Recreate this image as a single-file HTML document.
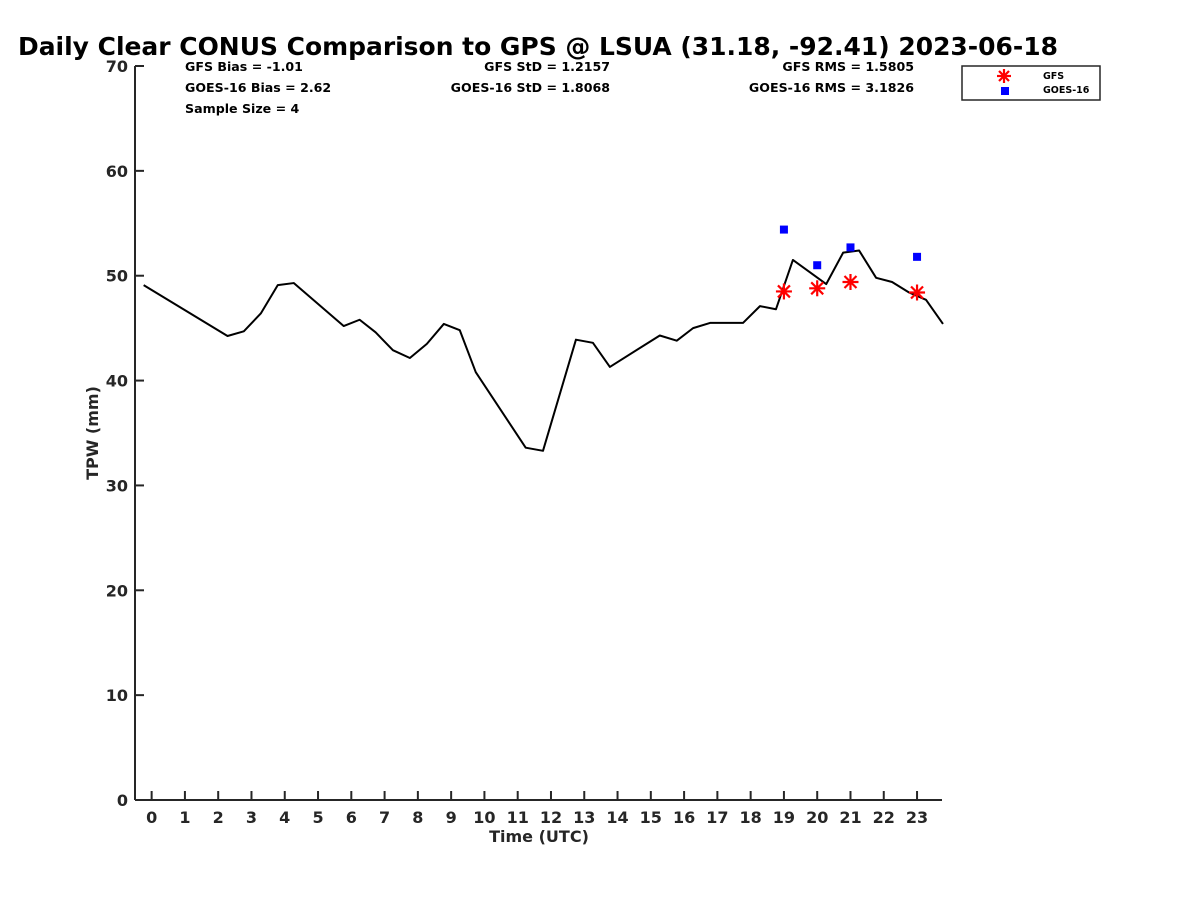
<!DOCTYPE html>
<html><head><meta charset="utf-8"><style>
body{margin:0;background:#fff;}
svg text{font-family:"DejaVu Sans","Liberation Sans",sans-serif;font-weight:bold;}
</style></head><body>
<svg id="chart" width="1200" height="900" xmlns="http://www.w3.org/2000/svg">
<rect width="1200" height="900" fill="#fff"/>
<text x="18" y="55" font-size="25" fill="#000" textLength="1040" lengthAdjust="spacingAndGlyphs">Daily Clear CONUS Comparison to GPS @ LSUA (31.18, -92.41) 2023-06-18</text>
<g id="stats" font-size="12.6" fill="#000">
<text x="185" y="71">GFS Bias = -1.01</text>
<text x="185" y="92">GOES-16 Bias = 2.62</text>
<text x="185" y="113">Sample Size = 4</text>
<text x="610" y="71" text-anchor="end">GFS StD = 1.2157</text>
<text x="610" y="92" text-anchor="end">GOES-16 StD = 1.8068</text>
<text x="914" y="71" text-anchor="end">GFS RMS = 1.5805</text>
<text x="914" y="92" text-anchor="end">GOES-16 RMS = 3.1826</text>
</g>
<g id="axes"></g>
<g id="marks"></g>
<g>
<rect x="962" y="66" width="138" height="34" fill="#fff" stroke="#262626" stroke-width="1.5"/>
<g stroke="#f00" stroke-width="2.2">
<line x1="1004" y1="69" x2="1004" y2="83"/><line x1="997" y1="76" x2="1011" y2="76"/>
<line x1="999" y1="71" x2="1009" y2="81"/><line x1="1009" y1="71" x2="999" y2="81"/></g>
<rect x="1001" y="87" width="8" height="8" fill="#00f"/>
<text x="1043" y="79" font-size="9.5">GFS</text>
<text x="1043" y="93" font-size="9.5">GOES-16</text>
</g>
</svg>
<script>
const gpsHours=[-0.24,2.28,2.77,3.28,3.79,4.27,5.77,6.25,6.73,7.25,7.76,8.27,8.78,9.26,9.74,11.24,11.76,12.75,13.26,13.77,15.27,15.78,16.27,16.78,17.77,18.28,18.76,19.27,20.27,20.78,21.26,21.77,22.25,22.76,23.27,23.78];
const gpsTPW=[49.1,44.25,44.7,46.4,49.1,49.3,45.2,45.8,44.6,42.9,42.15,43.5,45.4,44.8,40.8,33.6,33.3,43.9,43.6,41.3,44.3,43.8,45.0,45.5,45.5,47.1,46.8,51.5,49.2,52.2,52.4,49.8,49.4,48.4,47.7,45.4];
const satHours=[19,20,21,23];
const gfsTPW=[48.5,48.8,49.4,48.4];
const goesTPW=[54.4,51.0,52.7,51.8];
const xTicks=[0,1,2,3,4,5,6,7,8,9,10,11,12,13,14,15,16,17,18,19,20,21,22,23];
const yTicks=[0,10,20,30,40,50,60,70];

const NS="http://www.w3.org/2000/svg";
const X0=135,X1=942,Y0=800,Y1=66,xmin=-0.5,xmax=23.75,ymin=0,ymax=70;
const xs=h=>X0+(h-xmin)/(xmax-xmin)*(X1-X0);
const ys=v=>Y0-(v-ymin)/(ymax-ymin)*(Y0-Y1);
function mk(tag,attrs,parent){const e=document.createElementNS(NS,tag);for(const k in attrs)e.setAttribute(k,attrs[k]);parent.appendChild(e);return e;}
const ax=document.getElementById('axes'),mg=document.getElementById('marks');
let e=mk('line',{x1:X0,y1:Y0,x2:X1,y2:Y0,stroke:'#262626','stroke-width':2},ax);


e=mk('line',{x1:X0,y1:Y0,x2:X0,y2:Y1,stroke:'#262626','stroke-width':2},ax);


xTicks.forEach(t=>{
 const x=xs(t);
 let l=mk('line',{x1:x,y1:Y0,x2:x,y2:Y0-9,stroke:'#262626','stroke-width':2},ax);
 
 
 let tx=mk('text',{x:x,y:823,'font-size':16,'text-anchor':'middle',fill:'#262626'},ax);tx.textContent=t;
 
 
});
yTicks.forEach(t=>{
 const y=ys(t);
 let l=mk('line',{x1:X0,y1:y,x2:X0+9,y2:y,stroke:'#262626','stroke-width':2},ax);
 
 
 let tx=mk('text',{x:128,y:y+6,'font-size':16,'text-anchor':'end',fill:'#262626'},ax);tx.textContent=t;
 
 
});
e=mk('text',{x:539,y:842,'font-size':16,'text-anchor':'middle',fill:'#262626'},ax);e.textContent='Time (UTC)';


e=mk('text',{x:98,y:433,'font-size':16,'text-anchor':'middle',fill:'#262626',transform:'rotate(-90 98 433)'},ax);e.textContent='TPW (mm)';


e=mk('polyline',{points:gpsHours.map((h,i)=>xs(h)+','+ys(gpsTPW[i])).join(' '),fill:'none',stroke:'#000','stroke-width':2,'stroke-linejoin':'round'},mg);


satHours.forEach((h,i)=>{
 const x=xs(h),y=ys(gfsTPW[i]);
 const g=mk('g',{stroke:'#f00','stroke-width':2.2},mg);
 
 
 mk('line',{x1:x,y1:y-8,x2:x,y2:y+8},g);mk('line',{x1:x-8,y1:y,x2:x+8,y2:y},g);
 mk('line',{x1:x-6,y1:y-6,x2:x+6,y2:y+6},g);mk('line',{x1:x+6,y1:y-6,x2:x-6,y2:y+6},g);
 const r=mk('rect',{x:xs(h)-4,y:ys(goesTPW[i])-4,width:8,height:8,fill:'#00f'},mg);
 
 
});
</script>
</body></html>
